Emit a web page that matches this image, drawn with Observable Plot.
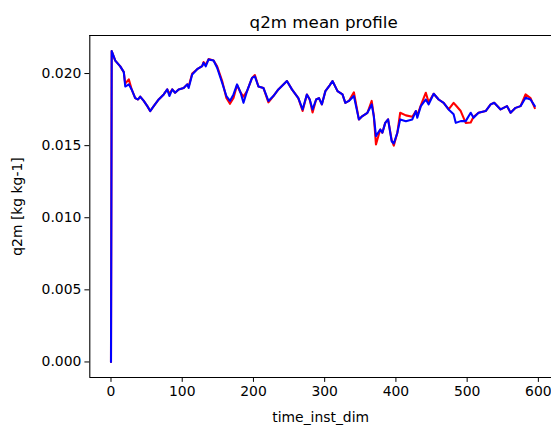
<!DOCTYPE html>
<html>
<head>
<meta charset="utf-8">
<script src="https://cdn.jsdelivr.net/npm/d3@7"></script>
<script src="https://cdn.jsdelivr.net/npm/@observablehq/plot@0.6"></script>
<style>
  html, body { margin: 0; padding: 0; background: white; }
</style>
</head>
<body>
<div id="chart"></div>
<script>
const titleText = "q2m mean profile";
const xLabel = "time_inst_dim";
const yLabel = "q2m [kg kg-1]";

const time = [0,1,6,13,18,20,25,29,34,38,
  41,46,51,55,60,67,74,79,82,86,
  90,95,102,107,109,114,121,128,130,133,
  137,144,149,156,162,167,172,177,182,186,
  191,198,202,207,214,221,228,235,247,254,
  263,269,275,279,283,288,292,296,301,307,
  311,318,325,329,334,341,348,353,360,366,
  369,372,378,381,385,389,394,397,402,406,
  414,423,428,430,435,442,446,453,460,467,
  474,481,484,491,498,505,509,516,526,533,
  538,547,556,561,568,575,582,589,595];

const blueValues = [0,0.02156,0.0209,0.0205,0.0201,0.0191,0.01925,0.0189,0.0183,0.0182,
  0.0184,0.0181,0.01774,0.0174,0.01774,0.0182,0.01855,0.0189,0.01844,0.0189,
  0.01867,0.0189,0.0190,0.01925,0.0190,0.01994,0.0203,0.02052,0.02075,0.0205,
  0.02098,0.0209,0.0204,0.01936,0.01844,0.0181,0.01855,0.01925,0.01867,0.01797,
  0.01878,0.0197,0.0198,0.0191,0.0190,0.0181,0.01844,0.0189,0.01948,0.0189,
  0.0183,0.01751,0.01855,0.0182,0.01751,0.0182,0.0183,0.01786,0.01878,0.01918,
  0.01948,0.01878,0.01855,0.01797,0.0181,0.01844,0.01682,0.01705,0.01728,0.01786,
  0.01705,0.01566,0.01612,0.0159,0.01658,0.01682,0.01531,0.01515,0.01589,0.01682,
  0.0167,0.01682,0.0174,0.01693,0.01774,0.0182,0.01786,0.0186,0.0182,0.01797,
  0.01751,0.01717,0.01658,0.0167,0.0167,0.01728,0.01693,0.01728,0.0174,0.01786,
  0.01797,0.01751,0.01774,0.01728,0.01762,0.01774,0.01832,0.0182,0.01774];

const redValues = [0,0.02156,0.0209,0.0205,0.0201,0.0193,0.0196,0.0189,0.0183,0.0182,
  0.0184,0.0181,0.01774,0.0174,0.01774,0.0182,0.01855,0.0189,0.0186,0.0189,
  0.01867,0.0189,0.0190,0.01925,0.0191,0.0200,0.0203,0.02052,0.0208,0.0206,
  0.0210,0.0209,0.0205,0.0195,0.0183,0.0179,0.0183,0.0192,0.01867,0.0184,
  0.01878,0.0197,0.0199,0.0191,0.0190,0.0180,0.01844,0.0189,0.01948,0.0189,
  0.0183,0.0174,0.01855,0.0182,0.0173,0.0182,0.0183,0.01786,0.01878,0.01918,
  0.01948,0.01878,0.01855,0.01797,0.0181,0.0187,0.01682,0.01705,0.01728,0.0181,
  0.01705,0.01508,0.01612,0.0159,0.01658,0.01682,0.0154,0.0150,0.01589,0.01728,
  0.0171,0.0170,0.0174,0.0171,0.0178,0.01867,0.0180,0.0186,0.0182,0.01797,
  0.01751,0.01797,0.0178,0.0174,0.01658,0.0166,0.0170,0.01728,0.0174,0.01786,
  0.01797,0.01751,0.01774,0.01728,0.01762,0.01774,0.01855,0.0183,0.0176];

const xTicks = [0, 100, 200, 300, 400, 500, 600];
const yTicks = [0, 0.005, 0.010, 0.015, 0.020];

const red = time.map((t, i) => ({t, v: redValues[i]}));
const blue = time.map((t, i) => ({t, v: blueValues[i]}));

// matplotlib-style 5% margins
const xMin = d3.min(time), xMax = d3.max(time);
const allV = blueValues.concat(redValues);
const yMin = d3.min(allV), yMax = d3.max(allV);
const xPad = (xMax - xMin) * 0.05, yPad = (yMax - yMin) * 0.05;
const xDomain = [xMin - xPad, xMax + xPad];
const yDomain = [yMin - yPad, yMax + yPad];

const W = 551, H = 428;
const mL = 89.3, mT = 35, mB = 51;
const axesRight = 555.5;

const chart = Plot.plot({
  width: W,
  height: H,
  marginLeft: mL,
  marginTop: mT,
  marginBottom: mB,
  marginRight: 0,
  style: {fontFamily: "'DejaVu Sans'", fontSize: "13.9px", color: "black", background: "white", overflow: "hidden"},
  x: {domain: xDomain, range: [mL, axesRight]},
  y: {domain: yDomain},
  marks: [
    Plot.axisX({ticks: xTicks, tickSize: 4.9, tickPadding: 3.5, tickFormat: d3.format("d"), label: xLabel, labelAnchor: "center", labelOffset: 44, labelArrow: "none"}),
    Plot.axisY({ticks: yTicks, tickSize: 4.9, tickPadding: 3.5, tickFormat: d3.format(".3f"), label: yLabel, labelAnchor: "center", labelOffset: 78, labelArrow: "none"}),
    Plot.lineY(red, {x: "t", y: "v", stroke: "#ff0000", strokeWidth: 2.08, curve: "linear"}),
    Plot.lineY(blue, {x: "t", y: "v", stroke: "#0000ff", strokeWidth: 2.08, curve: "linear"}),
    Plot.ruleX([xDomain[0]], {stroke: "black", strokeWidth: 1.1}),
    Plot.ruleY([yDomain[0], yDomain[1]], {stroke: "black", strokeWidth: 1.1}),
    Plot.text([titleText], {frameAnchor: "top", lineAnchor: "bottom", dy: -8, dx: 3, fontSize: 16.7, fill: "black"})
  ]
});
document.getElementById("chart").appendChild(chart);
</script>
</body>
</html>
